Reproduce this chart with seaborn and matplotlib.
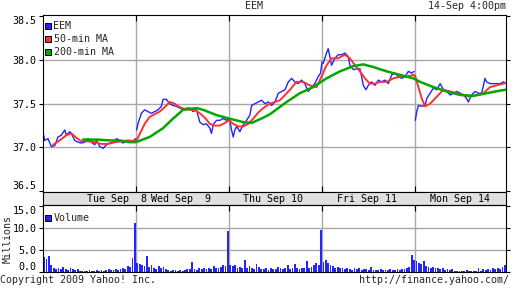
import numpy as np
import pandas as pd
import matplotlib
matplotlib.use("Agg")
import matplotlib.pyplot as plt
from matplotlib.lines import Line2D
import seaborn as sns

# ---------------- data (minutes since Tue open, 390 min per trading day) -------------
eem_t = [0, 7, 21, 35, 49, 63, 77, 91, 98, 112, 119, 133, 147, 161, 175, 189, 203, 217, 224, 238,
         252, 266, 280, 294, 308, 322, 336, 350, 364, 378, 389,
         392, 398, 412, 426, 440, 454, 468, 482, 496, 503, 517, 531, 545, 559, 573, 587, 601, 615,
         629, 643, 657, 671, 685, 699, 706, 713, 727, 741, 755, 769, 779,
         783, 790, 797, 804, 811, 825, 839, 853, 867, 874, 888, 902, 916, 930, 944, 958, 972, 986,
         1000, 1014, 1028, 1042, 1055, 1069, 1083, 1097, 1111, 1125, 1139, 1153, 1163, 1169,
         1174, 1181, 1188, 1195, 1202, 1209, 1223, 1237, 1251, 1265, 1279, 1286, 1300, 1314, 1328,
         1335, 1342, 1353, 1363, 1377, 1391, 1405, 1419, 1433, 1447, 1461, 1475, 1489, 1503, 1517,
         1531, 1545, 1555,
         1560, 1566, 1573, 1587, 1601, 1608, 1622, 1636, 1650, 1664, 1678, 1692, 1706, 1720, 1734,
         1748, 1761, 1775, 1782, 1796, 1810, 1824, 1838, 1852, 1859, 1873, 1887, 1901, 1915, 1929, 1940]
eem_price = [37.18, 37.08, 37.10, 37.01, 37.02, 37.12, 37.14, 37.20, 37.14, 37.18, 37.16, 37.08, 37.06,
             37.05, 37.06, 37.10, 37.06, 37.03, 37.08, 37.01, 36.99, 37.03, 37.05, 37.06, 37.10, 37.08,
             37.05, 37.08, 37.06, 37.08, 37.10,
             37.20, 37.27, 37.39, 37.43, 37.41, 37.39, 37.41, 37.43, 37.47, 37.55, 37.55, 37.50, 37.48,
             37.47, 37.45, 37.43, 37.45, 37.45, 37.41, 37.43, 37.29, 37.26, 37.27, 37.22, 37.16, 37.26,
             37.31, 37.31, 37.33, 37.31, 37.33,
             37.31, 37.20, 37.12, 37.20, 37.24, 37.18, 37.26, 37.31, 37.37, 37.48, 37.50, 37.52, 37.54,
             37.50, 37.52, 37.48, 37.52, 37.62, 37.64, 37.66, 37.75, 37.79, 37.75, 37.73, 37.77, 37.73,
             37.64, 37.69, 37.73, 37.81, 37.85, 37.98,
             37.96, 38.02, 38.08, 38.13, 38.04, 37.94, 38.02, 38.06, 38.06, 38.08, 38.04, 37.94, 37.89,
             37.90, 37.90, 37.81, 37.71, 37.66, 37.71, 37.75, 37.71, 37.77, 37.75, 37.77, 37.73, 37.83,
             37.85, 37.81, 37.79, 37.81, 37.87, 37.85, 37.87,
             37.31, 37.41, 37.48, 37.47, 37.48, 37.56, 37.62, 37.68, 37.66, 37.73, 37.66, 37.64, 37.60,
             37.62, 37.64, 37.62, 37.60, 37.56, 37.52, 37.60, 37.64, 37.62, 37.62, 37.79, 37.75, 37.73,
             37.73, 37.73, 37.73, 37.75, 37.73]

ma50_t = [42, 70, 98, 119, 140, 161, 189, 217, 245, 273, 301, 329, 357, 385,
          392, 405, 426, 447, 468, 489, 510, 531, 552, 573, 594, 615, 636, 657, 678, 699, 720, 741, 762, 780,
          797, 818, 839, 860, 881, 902, 923, 944,
          951, 993, 1035, 1062, 1090, 1118, 1146, 1167, 1188, 1209, 1237, 1265, 1286, 1307, 1328, 1349,
          1370, 1391, 1412, 1440, 1468, 1496, 1524, 1555, 1560, 1573, 1587, 1601, 1622, 1650, 1678, 1706,
          1734, 1762, 1790, 1817, 1845, 1873, 1901, 1929, 1940]
ma50 = [37.03, 37.08, 37.14, 37.16, 37.11, 37.07, 37.07, 37.06, 37.04, 37.04, 37.06, 37.07, 37.08, 37.07,
        37.08, 37.15, 37.27, 37.35, 37.38, 37.41, 37.46, 37.52, 37.50, 37.46, 37.44, 37.43, 37.43, 37.39,
        37.34, 37.27, 37.25, 37.25, 37.28, 37.31,
        37.27, 37.24, 37.24, 37.27, 37.33, 37.40, 37.45, 37.49,
        37.50, 37.54, 37.66, 37.75, 37.75, 37.71, 37.69, 37.81, 37.94, 38.02, 38.02, 38.06, 38.02, 37.94,
        37.87, 37.79, 37.73, 37.73, 37.75, 37.75, 37.79, 37.81, 37.81, 37.83, 37.81, 37.69, 37.56, 37.47,
        37.50, 37.58, 37.66, 37.64, 37.62, 37.60, 37.58, 37.60, 37.62, 37.69, 37.71, 37.73, 37.74]

ma200_t = [168, 224, 280, 322, 364, 389, 447, 503, 545, 587, 643, 671, 727, 780, 839, 874, 923, 951,
           1021, 1076, 1132, 1188, 1244, 1300, 1342, 1384, 1440, 1496, 1552, 1580, 1636, 1692, 1748,
           1803, 1859, 1915, 1940]
ma200 = [37.09, 37.09, 37.08, 37.08, 37.06, 37.06, 37.12, 37.22, 37.33, 37.43, 37.45, 37.43, 37.37,
         37.33, 37.29, 37.28, 37.34, 37.38, 37.52, 37.62, 37.69, 37.79, 37.87, 37.93, 37.95, 37.92,
         37.87, 37.83, 37.79, 37.75, 37.69, 37.64, 37.60, 37.59, 37.62, 37.65, 37.66]

# volume in millions, 10-minute bins, 39 per day
vol_tue = [3.3, 2.8, 3.5, 1.5, 0.8, 0.6, 0.9, 0.5, 1.0, 0.6, 0.4, 0.8, 0.5, 0.3, 0.6, 0.2, 0.1, 0.2, 0.1,
           0.3, 0.2, 0.1, 0.3, 0.2, 0.4, 0.2, 0.3, 0.5, 0.3, 0.4, 0.6, 0.3, 0.5, 0.8, 0.5, 1.2, 1.0, 3.2, 11.0]
vol_wed = [2.0, 1.8, 1.5, 1.2, 3.6, 1.0, 1.5, 0.8, 0.6, 1.3, 0.7, 1.0, 0.5, 0.3, 0.2, 0.3, 0.4, 0.2, 0.3,
           0.2, 0.4, 0.6, 0.5, 2.2, 0.5, 0.4, 0.8, 0.6, 0.7, 0.5, 0.9, 0.6, 1.2, 0.8, 0.7, 1.0, 1.5, 1.2, 9.2]
vol_thu = [1.5, 1.2, 1.6, 0.9, 1.1, 0.8, 2.6, 0.9, 1.3, 0.7, 0.6, 1.8, 1.0, 0.6, 0.5, 0.8, 0.4, 0.9, 0.5,
           0.6, 1.0, 0.7, 0.5, 0.8, 1.4, 0.6, 0.9, 1.7, 0.8, 0.6, 0.9, 0.7, 2.4, 0.8, 1.0, 1.6, 2.0, 1.5, 9.5]
vol_fri = [2.2, 2.6, 2.0, 1.4, 1.2, 0.9, 1.0, 0.7, 0.8, 0.6, 0.9, 0.5, 0.4, 0.7, 0.5, 0.8, 0.4, 0.5, 0.6,
           0.4, 1.0, 0.3, 0.4, 0.3, 0.5, 0.3, 0.4, 0.3, 0.5, 0.4, 0.3, 0.5, 0.4, 0.6, 0.5, 0.8, 1.0, 3.8, 2.7]
vol_mon = [2.3, 2.0, 1.8, 2.4, 1.2, 1.0, 0.9, 1.1, 0.8, 0.7, 0.6, 0.9, 0.4, 0.5, 0.3, 0.5, 0.2, 0.1, 0.2,
           0.1, 0.2, 0.3, 0.1, 0.2, 0.1, 0.2, 0.8, 0.2, 0.5, 0.3, 0.6, 0.4, 0.7, 0.5, 0.8, 0.6, 1.0, 1.5, 2.6]

day_labels = ["Tue Sep  8", "Wed Sep  9", "Thu Sep 10", "Fri Sep 11", "Mon Sep 14"]
day_label_pos = [309, 577, 963, 1357, 1747]
day_bounds = [390, 780, 1170, 1560]
price_ticks = [36.5, 37.0, 37.5, 38.0, 38.5]
vol_ticks = [0, 5, 10, 15]
vol_tick_labels = ["0.0", "5.0", "10.0", "15.0"]

# ---------------- style -------------------------------------------------------------
sns.set_style("white")
plt.rcParams['font.family'] = ['DejaVu Sans Mono']
FS = 7.2
BLUE, RED, GREEN = "#2424ff", "#ff3030", "#00a800"
GRID = "#a8a8a8"
LW = 0.8
XMAX = 1940
VMAX = 15.2

W, H = 512, 288
fig = plt.figure(figsize=(W / 100, H / 100), dpi=100)
PX0, PX1 = 43, 506
VTOP, VBOT = 205, 271.5


def rect(x0, y0, x1, y1):
    return [x0 / W, 1 - y1 / H, (x1 - x0) / W, (y1 - y0) / H]


ax = fig.add_axes(rect(PX0, 15, PX1, 192))
band = fig.add_axes(rect(PX0, 192, PX1, 205))
axv = fig.add_axes(rect(PX0, VTOP, PX1, VBOT))


def style_spines(a):
    for s in a.spines.values():
        s.set_color("black")
        s.set_linewidth(LW)
        s.set_zorder(10)


# ---------------- price panel -------------------------------------------------------
eem_df = pd.DataFrame({"t": eem_t, "p": eem_price})
eem_df["day"] = np.minimum(np.array(eem_t) // 390, 4)
sns.lineplot(data=eem_df, x="t", y="p", units="day", estimator=None, color=BLUE,
             linewidth=1.0, ax=ax, legend=False, zorder=3)
sns.lineplot(x=ma50_t, y=ma50, color=RED, linewidth=1.4, ax=ax, legend=False, zorder=4)
sns.lineplot(x=ma200_t, y=ma200, color=GREEN, linewidth=1.8, ax=ax, legend=False, zorder=5)
ax.set_xlim(0, XMAX)
ax.set_ylim(36.49, 38.515)
ax.set_yticks(price_ticks)
ax.set_yticklabels([f"{v:.1f}" for v in price_ticks], fontsize=FS)
ax.set_xticks(day_bounds)
ax.tick_params(axis="y", direction="out", length=3, width=LW, left=True, right=True,
               pad=2, color="black", labelcolor="black")
ax.tick_params(axis="x", direction="in", length=4, width=LW, top=True, bottom=True,
               labelbottom=False, color="black")
ax.set_xlabel("")
ax.set_ylabel("")
style_spines(ax)
for x in day_bounds:
    ax.axvline(x, color=GRID, lw=1.0, zorder=0.5)
for y in [37.0, 37.5, 38.0]:
    ax.axhline(y, color=GRID, lw=1.0, zorder=0.5)
tl = ax.get_yticklabels()
tl[0].set_va("bottom")
tl[-1].set_va("top")

handles = [Line2D([], [], marker="s", linestyle="", markerfacecolor=c, markeredgecolor="black",
                  markeredgewidth=0.7, markersize=4.6) for c in (BLUE, RED, GREEN)]
ax.legend(handles, ["EEM", "50-min MA", "200-min MA"], loc="upper left",
          bbox_to_anchor=(2 / 463, 1 - 6 / 177), frameon=False, fontsize=FS,
          handlelength=0.5, handletextpad=0.35, labelspacing=0.32, borderpad=0,
          borderaxespad=0)

# ---------------- date band ---------------------------------------------------------
band.set_facecolor("#e0e0e0")
band.set_xlim(0, XMAX)
band.set_ylim(0, 1)
band.set_xticks([])
band.set_yticks([])
style_spines(band)
for lab, pos in zip(day_labels, day_label_pos):
    band.text(pos, 0.45, lab, ha="center", va="center", fontsize=FS, color="black")

# ---------------- volume panel ------------------------------------------------------
vol = vol_tue + vol_wed + vol_thu + vol_fri + vol_mon
vol_t = np.arange(len(vol)) * 10 + 5
axv.set_facecolor("none")
axv.bar(vol_t, vol, width=7.5, color=BLUE, linewidth=0, zorder=3)
axv.set_xlim(0, XMAX)
axv.set_ylim(0, VMAX)
axv.set_yticks(vol_ticks)
axv.set_yticklabels([""] * len(vol_ticks))
axv.set_xticks(day_bounds)
axv.tick_params(axis="y", direction="out", length=3, width=LW, left=True, right=True,
                color="black")
axv.tick_params(axis="x", direction="in", length=4, width=LW, top=True, bottom=False,
                labelbottom=False, color="black")
axv.set_xlabel("")
axv.set_ylabel("")
style_spines(axv)
vh = [Line2D([], [], marker="s", linestyle="", markerfacecolor=BLUE, markeredgecolor="black",
             markeredgewidth=0.7, markersize=4.6)]
axv.legend(vh, ["Volume"], loc="upper left", bbox_to_anchor=(2 / 463, 1 - 8 / 66.5),
           frameon=False, fontsize=FS, handlelength=0.5, handletextpad=0.35, borderpad=0,
           borderaxespad=0)


def vy(v):
    """volume value -> figure fraction (y)"""
    py = VBOT - (VBOT - VTOP) * v / VMAX
    return 1 - py / H


def dx(t):
    """minutes -> figure fraction (x)"""
    return (PX0 + (PX1 - PX0) * t / XMAX) / W


# grid of the volume panel, drawn at figure level beneath the axes content
for y in [5, 10]:
    fig.add_artist(Line2D([PX0 / W, PX1 / W], [vy(y), vy(y)], color=GRID, lw=1.0, zorder=-1))
for x in day_bounds:
    fig.add_artist(Line2D([dx(x), dx(x)], [vy(0), vy(VMAX)], color=GRID, lw=1.0, zorder=-1))

# volume tick labels
for i, (v, s) in enumerate(zip(vol_ticks, vol_tick_labels)):
    va = "bottom" if i == 0 else ("top" if i == len(vol_ticks) - 1 else "center_baseline")
    fig.text((PX0 - 6.5) / W, vy(v), s, ha="right", va=va, fontsize=FS, color="black")

# ---------------- surrounding texts -------------------------------------------------
fig.text(8 / W, 1 - 239 / H, "Millions", rotation=90, ha="center", va="center", fontsize=FS)
fig.text(254 / W, 1 - 6 / H, "EEM", ha="center", va="center", fontsize=FS)
fig.text(506 / W, 1 - 6 / H, "14-Sep 4:00pm", ha="right", va="center", fontsize=FS)
fig.text(0, 1 - 280 / H, "Copyright 2009 Yahoo! Inc.", ha="left", va="center", fontsize=FS)
fig.text(509 / W, 1 - 280 / H, "http://finance.yahoo.com/", ha="right", va="center", fontsize=FS)

fig.savefig("out.png", dpi=100, facecolor="white")
